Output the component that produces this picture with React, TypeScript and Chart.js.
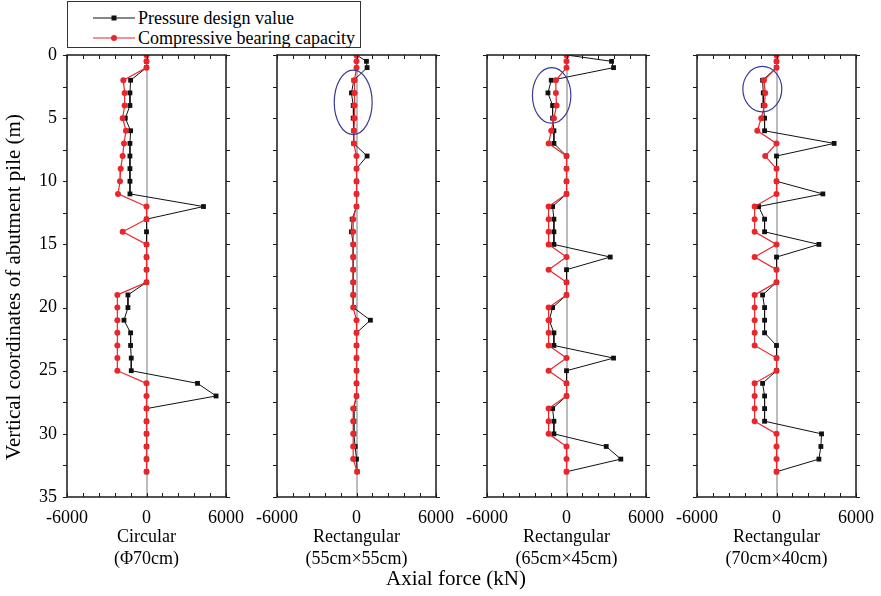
import React, { useEffect, useRef } from 'react';
import { Chart, registerables } from 'chart.js';

Chart.register(...registerables);

// Depth of each record along the pile (m)
const depths = [0, 0.5, 1, 2, 3, 4, 5, 6, 7, 8, 9, 10, 11, 12, 13, 14, 15, 16, 17, 18, 19, 20, 21, 22, 23, 24, 25, 26, 27, 28, 29, 30, 31, 32, 33];

// Panel 1: Circular (Φ70cm)
const circPressure = [0, 0, 0, -1200, -1250, -1250, -1600, -1200, -1250, -1250, -1250, -1250, -1250, 4300, 0, 0, 0, 0, 0, 0, -1400, -1400, -1700, -1200, -1200, -1150, -1150, 3850, 5250, 0, 0, 0, 0, 0, 0];
const circCapacity = [0, 0, 0, -1750, -1650, -1650, -1800, -1550, -1700, -1800, -1950, -2000, -2150, 0, 0, -1800, 0, 0, 0, 0, -2200, -2200, -2200, -2200, -2200, -2200, -2200, 0, 0, 0, 0, 0, 0, 0, 0];

// Panel 2: Rectangular (55cm×55cm)
const rect55Pressure = [0, 750, 800, -200, -380, -250, -250, -200, -200, 800, 0, 0, 0, 0, -330, -380, -250, -250, -250, -250, -250, -200, 1050, 0, 0, 0, 0, 0, 0, -200, -200, -200, -100, 0, 50];
const rect55Capacity = [0, 0, 0, -150, -150, -150, -150, -200, -200, 0, 0, 0, 0, 0, -250, -250, -250, -250, -250, -250, -250, -250, 0, 0, 0, 0, 0, 0, 0, -250, -250, -250, -250, -250, 50];

// Panel 3: Rectangular (65cm×45cm)
const rect65Pressure = [0, 3400, 3550, -1150, -1400, -1050, -1050, -950, -950, 0, 0, 0, 0, -1050, -950, -950, -950, 3300, 0, 0, 0, -1050, -1300, -950, -950, 3550, 0, 0, 0, -1050, -950, -950, 3000, 4100, 0];
const rect65Capacity = [0, 0, 0, -800, -800, -750, -950, -1150, -1350, 0, 0, 0, 0, -1350, -1350, -1350, -1350, 0, -1350, 0, 0, -1350, -1350, -1350, -1350, 0, -1350, 0, 0, -1350, -1350, -1350, 0, 0, 0];

// Panel 4: Rectangular (70cm×40cm)
const rect70Pressure = [0, 0, 0, -1050, -1000, -1000, -900, -900, 4350, 0, 0, 0, 3500, -1350, -900, -900, 3200, 0, 0, 0, -1050, -900, -900, -900, 0, 0, 0, -1050, -900, -900, -900, 3400, 3350, 3200, 0];
const rect70Capacity = [0, 0, 0, -950, -850, -900, -1150, -1450, 0, -850, 0, 0, 0, -1650, -1650, -1650, 0, -1650, 0, 0, -1650, -1650, -1650, -1650, -1650, 0, 0, -1650, -1650, -1650, -1650, 0, 0, 0, 0];

const panelTitles = [
  ['Circular', '(Φ70cm)'],
  ['Rectangular', '(55cm×55cm)'],
  ['Rectangular', '(65cm×45cm)'],
  ['Rectangular', '(70cm×40cm)'],
];
const pressureSeries = [circPressure, rect55Pressure, rect65Pressure, rect70Pressure];
const capacitySeries = [circCapacity, rect55Capacity, rect65Capacity, rect70Capacity];

const xLabelValues = [-6000, 0, 6000];
const yLabelValues = [0, 5, 10, 15, 20, 25, 30, 35];

// highlight ellipses (data units): centre x, centre y, half-width, half-height
const ellipseCx = [null, -250, -1120, -1070];
const ellipseCy = [null, 3.75, 3.2, 2.7];
const ellipseRx = [null, 1430, 1450, 1470];
const ellipseRy = [null, 2.55, 2.2, 1.8];

const seriesNames = ['Pressure design value', 'Compressive bearing capacity'];
const yAxisTitle = 'Vertical coordinates of abutment pile (m)';
const xAxisTitle = 'Axial force (kN)';

const FONT = "'Liberation Serif', 'Times New Roman', serif";
const BLACK = '#111111';
const RED = '#e8262b';
const CHART_TOP = 55;
const CHART_BOTTOM = 497;
const CANVAS_H = 596;
const PLOT_W = 159;
const PLOT_LEFTS = [67, 277, 487, 697];
const SIDE_PAD = 32;

const framePlugin = {
  id: 'frameTicks',
  afterDatasetsDraw(chart: any, _args: any, opts: any) {
    const ctx = chart.ctx;
    const { left, right, top, bottom } = chart.chartArea;
    const xs = chart.scales.x;
    const ys = chart.scales.y;
    ctx.save();
    // ellipse annotation
    if (opts && opts.cx !== null && opts.cx !== undefined) {
      const cx = xs.getPixelForValue(opts.cx);
      const cy = ys.getPixelForValue(opts.cy);
      const rx = Math.abs(xs.getPixelForValue(opts.cx + opts.rx) - cx);
      const ry = Math.abs(ys.getPixelForValue(opts.cy + opts.ry) - cy);
      ctx.beginPath();
      ctx.ellipse(cx, cy, rx, ry, 0, 0, Math.PI * 2);
      ctx.strokeStyle = '#3b3b98';
      ctx.lineWidth = 1.2;
      ctx.stroke();
    }
    ctx.strokeStyle = '#1a1a1a';
    ctx.lineWidth = 1.5;
    ctx.strokeRect(left, top, right - left, bottom - top);
    ctx.lineWidth = 1;
    ctx.beginPath();
    xs.ticks.forEach((t: any) => {
      const px = Math.round(xs.getPixelForValue(t.value)) + 0.5;
      ctx.moveTo(px, bottom);
      ctx.lineTo(px, bottom - 4);
      ctx.moveTo(px, top);
      ctx.lineTo(px, top + 4);
    });
    ys.ticks.forEach((t: any) => {
      const py = Math.round(ys.getPixelForValue(t.value)) + 0.5;
      ctx.moveTo(left, py);
      ctx.lineTo(left - 4, py);
      ctx.moveTo(right, py);
      ctx.lineTo(right + 4, py);
    });
    ctx.stroke();
    // y axis title (first panel only)
    if (opts && opts.yTitle) {
      ctx.translate(opts.yTitleX, opts.yTitleY);
      ctx.rotate(-Math.PI / 2);
      ctx.fillStyle = '#000';
      ctx.font = `21px ${FONT}`;
      ctx.textAlign = 'center';
      ctx.textBaseline = 'middle';
      ctx.fillText(opts.yTitle, 0, 0);
    }
    ctx.restore();
  },
};

function Panel({ index }: { index: number }) {
  const ref = useRef<HTMLCanvasElement | null>(null);
  const first = index === 0;
  const padL = first ? 0 : SIDE_PAD;
  const yW = first ? PLOT_LEFTS[0] : 0;
  const canvasLeft = first ? 0 : PLOT_LEFTS[index] - padL;
  const width = (first ? yW : padL) + PLOT_W + SIDE_PAD;

  useEffect(() => {
    if (!ref.current) return;
    const pressure = pressureSeries[index];
    const capacity = capacitySeries[index];
    const chart = new Chart(ref.current, {
      type: 'scatter',
      data: {
        datasets: [
          {
            label: seriesNames[0],
            data: depths.map((d, i) => ({ x: pressure[i], y: d })),
            showLine: true,
            borderColor: BLACK,
            backgroundColor: BLACK,
            borderWidth: 1,
            pointStyle: 'rect',
            pointRadius: 3.4,
            pointBorderWidth: 0,
            order: 2,
          },
          {
            label: seriesNames[1],
            data: depths.map((d, i) => ({ x: capacity[i], y: d })),
            showLine: true,
            borderColor: RED,
            backgroundColor: RED,
            borderWidth: 1.2,
            pointStyle: 'circle',
            pointRadius: 3,
            pointBorderWidth: 0,
            order: 1,
          },
        ],
      },
      options: {
        responsive: false,
        animation: false,
        devicePixelRatio: 1,
        layout: { padding: { top: CHART_TOP, right: SIDE_PAD, bottom: 0, left: padL } },
        plugins: {
          legend: { display: false },
          tooltip: { enabled: false },
          frameTicks: {
            cx: ellipseCx[index],
            cy: ellipseCy[index],
            rx: ellipseRx[index],
            ry: ellipseRy[index],
            yTitle: first ? yAxisTitle : null,
            yTitleX: 14,
            yTitleY: 287,
          },
        } as any,
        scales: {
          x: {
            type: 'linear',
            position: 'bottom',
            min: -6000,
            max: 6000,
            afterFit: (s: any) => {
              s.height = CANVAS_H - CHART_BOTTOM;
            },
            ticks: {
              stepSize: 1200,
              autoSkip: false,
              maxRotation: 0,
              padding: 10,
              color: '#000',
              font: { family: FONT, size: 18 },
              callback: (v: any) => (xLabelValues.includes(Number(v)) ? String(v) : ''),
            },
            grid: {
              drawTicks: false,
              lineWidth: 2,
              color: (c: any) => (c.tick && c.tick.value === 0 ? '#bcbcbc' : 'rgba(0,0,0,0)'),
            },
            border: { display: false },
            title: {
              display: true,
              text: panelTitles[index],
              color: '#000',
              font: { family: FONT, size: 18, lineHeight: 1.2 },
              padding: { top: 0, bottom: 26 },
            },
          },
          y: {
            type: 'linear',
            display: first,
            reverse: true,
            min: 0,
            max: 35,
            afterFit: (s: any) => {
              s.width = yW;
            },
            ticks: {
              stepSize: 2.5,
              autoSkip: false,
              padding: 10,
              color: '#000',
              font: { family: FONT, size: 18 },
              callback: (v: any) => (yLabelValues.includes(Number(v)) ? String(v) : ''),
            },
            grid: { display: false, drawTicks: false },
            border: { display: false },
            title: { display: false },
          },
        },
      },
      plugins: [framePlugin],
    } as any);
    return () => chart.destroy();
  }, [index]);

  return (
    <canvas
      ref={ref}
      width={width}
      height={CANVAS_H}
      style={{ position: 'absolute', left: canvasLeft, top: 0, width, height: CANVAS_H }}
    />
  );
}

function LegendSample({ color, square }: { color: string; square: boolean }) {
  return (
    <svg width={42} height={10} style={{ position: 'absolute', left: 25, top: 5 }}>
      <line x1={0} y1={5} x2={42} y2={5} stroke={color} strokeWidth={1.2} />
      {square ? (
        <rect x={18.5} y={2.5} width={5} height={5} fill={color} />
      ) : (
        <circle cx={21} cy={5} r={3} fill={color} />
      )}
    </svg>
  );
}

export default function App() {
  return (
    <div
      style={{
        position: 'absolute',
        left: 0,
        top: 0,
        width: 881,
        height: 596,
        background: '#fff',
        fontFamily: FONT,
        color: '#000',
      }}
    >
      {[0, 1, 2, 3].map((i) => (
        <Panel key={i} index={i} />
      ))}
      <div
        style={{
          position: 'absolute',
          left: 67,
          top: 1,
          width: 294,
          height: 47,
          border: '1px solid #333',
          boxSizing: 'border-box',
          fontSize: 18,
          background: '#fff',
        }}
      >
        <div style={{ position: 'absolute', left: 0, top: 6, width: 290, height: 20, lineHeight: '20px' }}>
          <LegendSample color={BLACK} square={true} />
          <span style={{ position: 'absolute', left: 70, top: 0, whiteSpace: 'nowrap' }}>{seriesNames[0]}</span>
        </div>
        <div style={{ position: 'absolute', left: 0, top: 26, width: 290, height: 20, lineHeight: '20px' }}>
          <LegendSample color={RED} square={false} />
          <span style={{ position: 'absolute', left: 70, top: 0, whiteSpace: 'nowrap' }}>{seriesNames[1]}</span>
        </div>
      </div>
      <div
        style={{
          position: 'absolute',
          left: 356,
          top: 565,
          width: 200,
          textAlign: 'center',
          fontSize: 21,
          lineHeight: '26px',
          whiteSpace: 'nowrap',
        }}
      >
        {xAxisTitle}
      </div>
    </div>
  );
}
